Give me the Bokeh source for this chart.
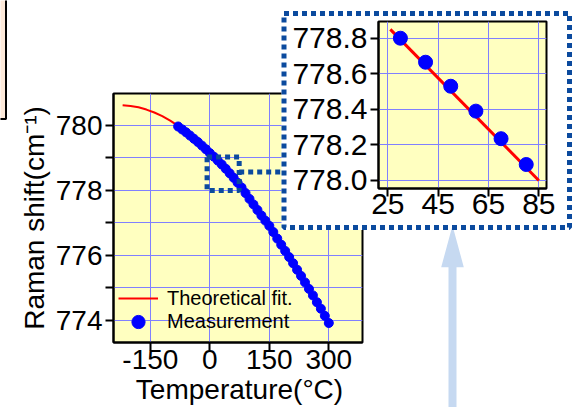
from bokeh.plotting import figure
from bokeh.models import (Range1d, FixedTicker, Legend, LegendItem, PrintfTickFormatter)
from bokeh.embed import file_html
from bokeh.resources import INLINE

# ---------------- data ----------------
meas_T = [-80, -70, -60, -50, -40, -30, -20, -10, 0, 10, 20, 30, 40, 50, 60, 70, 80,
          90, 100, 110, 120, 130, 140, 150, 160, 170, 180, 190, 200, 210, 220, 230,
          240, 250, 260, 270, 280, 290, 300]
meas_shift = [779.97, 779.88, 779.79, 779.69, 779.59, 779.49, 779.38, 779.27, 779.15,
              779.04, 778.92, 778.80, 778.67, 778.53, 778.39, 778.24, 778.09, 777.92,
              777.74, 777.57, 777.40, 777.23, 777.07, 776.91, 776.72, 776.52, 776.33,
              776.14, 775.95, 775.76, 775.56, 775.37, 775.17, 774.97, 774.77, 774.56,
              774.36, 774.14, 773.92]
fit_T = [-220, -200, -180, -160, -140, -120, -100, -80, -60, -40, -20, 0, 20, 40, 60,
         80, 100, 120, 140, 160, 180, 200, 220, 240, 260, 280, 300]
fit_shift = [780.62, 780.60, 780.56, 780.49, 780.40, 780.29, 780.15, 779.99, 779.80,
             779.60, 779.39, 779.16, 778.93, 778.68, 778.40, 778.10, 777.76, 777.41,
             777.07, 776.72, 776.34, 775.95, 775.56, 775.17, 774.77, 774.36, 773.94]

inset_T = [30, 40, 50, 60, 70, 80]
inset_shift = [778.80, 778.665, 778.53, 778.39, 778.235, 778.09]
inset_fit_T = [26, 85]
inset_fit_shift = [778.85, 778.00]

x_ticks = [-150, 0, 150, 300]
y_ticks = [774, 776, 778, 780]
y_minor = [775, 777, 779]
inset_x_ticks = [25, 45, 65, 85]
inset_y_ticks = [778.0, 778.2, 778.4, 778.6, 778.8]

x_label = "Temperature(°C)"
y_label = "Raman shift(cm⁻¹)"

# zoom marker in main plot (data units)
zoom_box = (-7, 74, 778.0, 779.03)       # left, right, bottom, top
connector_y = 778.57

# page decorations (page pixels)
PAGE_W, PAGE_H = 580, 407
inset_pos = (281, 10)
inset_size = (291, 221)
inset_box = (283.5, 569, 13, 227)        # dotted frame round the inset
arrow_xs = [452, 463.3, 456, 456, 448, 448, 440.7]
arrow_ys = [225, 266.7, 266.7, 412, 412, 266.7, 266.7]
corner_box = (-5, 5.5, -5, 118.5)
x_label_pos = (239, 388.5)

FONT = "Liberation Sans"
YELLOW = "#ffffc0"
GRID = "#8080ff"
DOT = "#0b4a9e"

# ---------------- main plot ----------------
p = figure(width=PAGE_W, height=PAGE_H, x_range=Range1d(-243, 385), y_range=Range1d(773.32, 780.985),
           output_backend="svg", toolbar_location=None,
           min_border_left=113, min_border_right=218, min_border_top=93, min_border_bottom=65,
           background_fill_color=YELLOW, border_fill_color="white",
           outline_line_color="black", outline_line_width=2)

for ax in (p.xaxis[0], p.yaxis[0]):
    ax.axis_line_width = 2
    ax.axis_line_color = "black"
    ax.major_tick_out = 8
    ax.major_tick_in = 0
    ax.major_tick_line_width = 2
    ax.major_tick_line_color = "black"
    ax.major_label_text_font = FONT
    ax.major_label_text_font_size = "28px"
    ax.major_label_text_color = "black"
    ax.axis_label_text_font = FONT
    ax.axis_label_text_font_size = "28px"
    ax.axis_label_text_font_style = "normal"
    ax.axis_label_text_color = "black"

xa = p.xaxis[0]
xa.ticker = FixedTicker(ticks=x_ticks)
xa.major_label_overrides = {t: str(t) for t in x_ticks}
xa.minor_tick_line_color = None
xa.major_label_standoff = -1

ya = p.yaxis[0]
ya.ticker = FixedTicker(ticks=y_ticks, minor_ticks=y_minor)
ya.minor_tick_out = 8
ya.minor_tick_in = 0
ya.minor_tick_line_width = 2
ya.minor_tick_line_color = "black"
ya.major_label_standoff = 3
ya.axis_label = y_label
ya.axis_label_standoff = 3

p.xgrid.ticker = FixedTicker(ticks=x_ticks)
p.ygrid.ticker = FixedTicker(ticks=y_ticks, minor_ticks=y_minor)
p.xgrid.grid_line_color = GRID
p.ygrid.grid_line_color = GRID
p.ygrid.minor_grid_line_color = GRID

fit_r = p.line(fit_T, fit_shift, line_color="red", line_width=2)
meas_r = p.scatter(meas_T, meas_shift, size=9, color="blue")

p.quad(left=[zoom_box[0]], right=[zoom_box[1]], bottom=[zoom_box[2]], top=[zoom_box[3]],
       fill_color=None, line_color=DOT, line_width=5, line_dash="5 4")
p.line([zoom_box[1], 200], [connector_y, connector_y], line_color=DOT, line_width=5, line_dash="5 4")

leg_common = dict(padding=0, margin=0, spacing=0, glyph_width=40, label_height=20,
                  label_standoff=9, label_text_font=FONT, label_text_font_size="20px",
                  label_text_color="black", border_line_color=None, background_fill_alpha=0)
p.add_layout(Legend(items=[LegendItem(label="Theoretical fit.", renderers=[fit_r])],
                    location=(5, 32), glyph_height=24, **leg_common))
p.add_layout(Legend(items=[LegendItem(label="Measurement", renderers=[meas_r])],
                    location=(5, 4), glyph_height=33, **leg_common))

# ---------------- decoration layer (page pixels) ----------------
d = figure(width=PAGE_W, height=PAGE_H, x_range=Range1d(0, PAGE_W), y_range=Range1d(PAGE_H, 0),
           x_axis_type=None, y_axis_type=None, output_backend="svg", toolbar_location=None,
           min_border_left=0, min_border_right=0, min_border_top=0, min_border_bottom=0,
           outline_line_color=None, background_fill_color=None, border_fill_color=None)
d.styles = {"position": "absolute", "left": "0px", "top": "0px",
            "width": f"{PAGE_W}px", "height": f"{PAGE_H}px"}
d.quad(left=[inset_box[0] - 2.5], right=[inset_box[1] + 2.5], top=[inset_box[2] - 2.5],
       bottom=[inset_box[3] + 2.5], fill_color="white", line_color=None)
d.patch(arrow_xs, arrow_ys, fill_color="#c6d9f1", line_color=None)
d.quad(left=[inset_box[0]], right=[inset_box[1]], top=[inset_box[2]], bottom=[inset_box[3]],
       fill_color=None, line_color=DOT, line_width=5, line_dash="5 4")
d.quad(left=[corner_box[0]], right=[corner_box[1]], top=[corner_box[2]], bottom=[corner_box[3]],
       fill_color="#fde9d9", line_color="black", line_width=2)
d.text(x=[x_label_pos[0]], y=[x_label_pos[1]], text=[x_label], text_font_size="28px",
       text_align="center", text_baseline="middle", text_color="black",
       text_font={"value": FONT})

# ---------------- inset ----------------
q = figure(width=inset_size[0], height=inset_size[1],
           x_range=Range1d(21.3, 88.05), y_range=Range1d(777.955, 778.894),
           output_backend="svg", toolbar_location=None,
           min_border_left=97, min_border_right=26, min_border_top=11, min_border_bottom=43,
           background_fill_color=YELLOW, border_fill_color=None,
           outline_line_color="black", outline_line_width=2)
q.styles = {"position": "absolute", "left": f"{inset_pos[0]}px", "top": f"{inset_pos[1]}px",
            "width": f"{inset_size[0]}px", "height": f"{inset_size[1]}px"}

for ax in (q.xaxis[0], q.yaxis[0]):
    ax.axis_line_width = 2
    ax.axis_line_color = "black"
    ax.major_tick_out = 8
    ax.major_tick_in = 0
    ax.major_tick_line_width = 2
    ax.major_tick_line_color = "black"
    ax.minor_tick_line_color = None
    ax.major_label_text_font = FONT
    ax.major_label_text_font_size = "30px"
    ax.major_label_text_color = "black"

q.xaxis[0].ticker = FixedTicker(ticks=inset_x_ticks)
q.xaxis[0].major_label_standoff = -3
q.yaxis[0].ticker = FixedTicker(ticks=inset_y_ticks)
q.yaxis[0].formatter = PrintfTickFormatter(format="%.1f")
q.yaxis[0].major_label_standoff = 3
q.xgrid.ticker = FixedTicker(ticks=inset_x_ticks)
q.ygrid.ticker = FixedTicker(ticks=inset_y_ticks)
q.xgrid.grid_line_color = GRID
q.ygrid.grid_line_color = GRID

q.line(inset_fit_T, inset_fit_shift, line_color="red", line_width=3)
q.scatter(inset_T, inset_shift, size=14, color="blue")

open("out.html", "w").write(file_html([p, d, q], INLINE))
